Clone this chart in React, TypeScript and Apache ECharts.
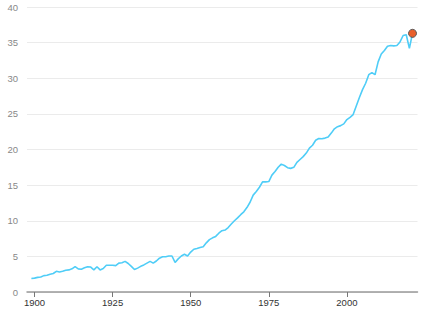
import React, { useEffect, useRef } from "react";
import * as echarts from "echarts";

const years: number[] = [];
for (let y = 1899; y <= 2021; y++) years.push(y);

const emissions: number[] = [
  1.9,
  1.95, 2.05, 2.1, 2.3, 2.35, 2.5, 2.6, 2.9, 2.8, 2.9,
  3.05, 3.1, 3.25, 3.55, 3.25, 3.2, 3.4, 3.55, 3.5, 3.1,
  3.55, 3.1, 3.3, 3.75, 3.75, 3.75, 3.7, 4.05, 4.1, 4.3,
  4.0, 3.6, 3.15, 3.35, 3.6, 3.8, 4.05, 4.3, 4.05, 4.35,
  4.75, 4.95, 4.95, 5.05, 5.05, 4.15, 4.65, 5.05, 5.3, 5.05,
  5.6, 6.0, 6.1, 6.25, 6.35, 6.9, 7.35, 7.6, 7.8, 8.25,
  8.6, 8.7, 9.05, 9.55, 10.0, 10.4, 10.85, 11.25, 11.85, 12.6,
  13.6, 14.1, 14.7, 15.45, 15.45, 15.5, 16.4, 16.9, 17.5, 17.95,
  17.75, 17.45, 17.35, 17.5, 18.2, 18.6, 19.0, 19.5, 20.2, 20.6,
  21.3, 21.55, 21.5, 21.6, 21.75, 22.3, 22.9, 23.2, 23.35, 23.6,
  24.2, 24.5, 24.9, 26.1, 27.3, 28.4, 29.3, 30.5, 30.8, 30.5,
  32.3, 33.4, 33.9, 34.5, 34.6, 34.55, 34.6, 35.1, 36.0, 36.1,
  34.2, 36.3,
];

const xTicks: number[] = [1900, 1925, 1950, 1975, 2000];

export default function App() {
  const ref = useRef<HTMLDivElement>(null);
  useEffect(() => {
    if (!ref.current) return;
    const chart = echarts.init(ref.current, null, { renderer: "svg" });
    const last = years.length - 1;
    const data = years.map((y, i) =>
      i === last
        ? {
            value: [y, emissions[i]],
            symbol: "circle",
            symbolSize: 8,
            itemStyle: { color: "#e8602c", borderColor: "#555", borderWidth: 1 },
          }
        : { value: [y, emissions[i]] }
    );
    chart.setOption({
      animation: false,
      grid: { left: 27, right: 14.5, top: 7, bottom: 32 },
      xAxis: {
        type: "value",
        min: 1897.6,
        max: 2022.6,
        splitLine: { show: false },
        axisLine: { show: true, lineStyle: { color: "#999", width: 1.5 } },
        axisTick: {
          show: true,
          length: 5,
          customValues: xTicks,
          lineStyle: { color: "#777" },
        },
        axisLabel: {
          customValues: xTicks,
          color: "#333",
          fontSize: 9.5,
          margin: 5,
          fontFamily: "Liberation Sans, Arial, sans-serif",
          formatter: (v: number) => String(v),
        },
      },
      yAxis: {
        type: "value",
        min: 0,
        max: 40,
        interval: 5,
        axisLine: { show: false },
        axisTick: { show: false },
        splitLine: { lineStyle: { color: "#ebebeb" } },
        axisLabel: {
          color: "#888",
          fontSize: 9.5,
          margin: 9,
          fontFamily: "Liberation Sans, Arial, sans-serif",
        },
      },
      series: [
        {
          type: "line",
          data,
          showSymbol: true,
          symbol: "none",
          lineStyle: { color: "#4fcdf7", width: 1.6 },
          itemStyle: { color: "#4fcdf7" },
        },
      ],
    });
    return () => chart.dispose();
  }, []);
  return (
    <div
      ref={ref}
      style={{ position: "absolute", left: 0, top: 0, width: 432, height: 324 }}
    />
  );
}
